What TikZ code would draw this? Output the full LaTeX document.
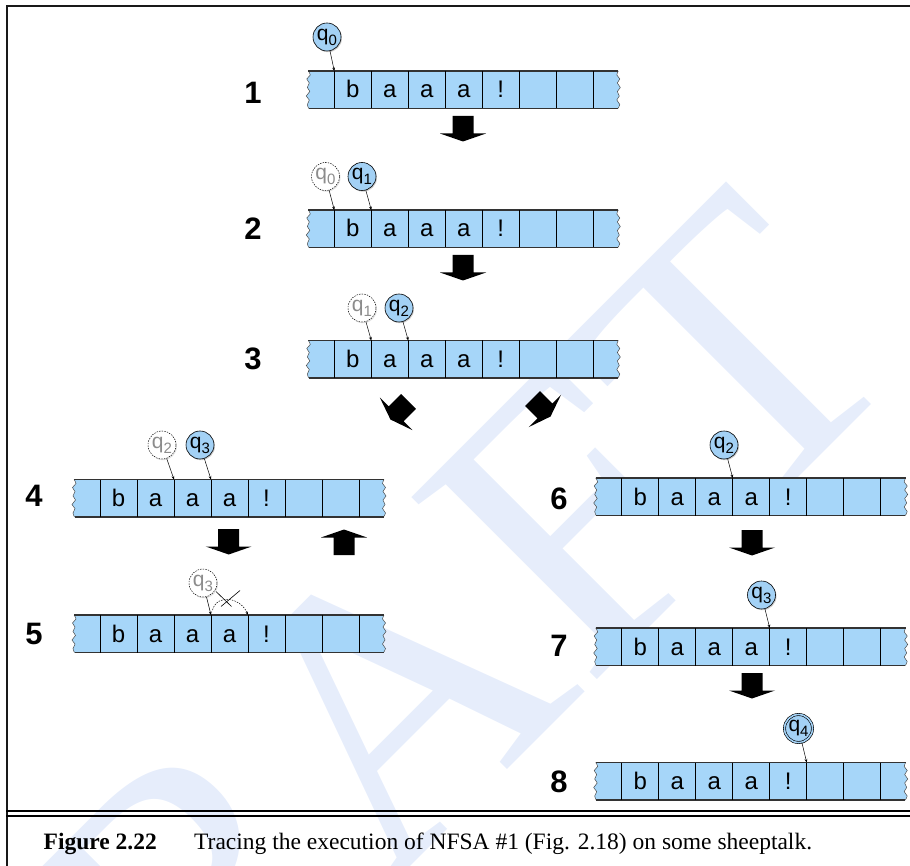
\documentclass[tikz,border=0pt]{standalone}
\usepackage{fontspec}
\setmainfont{Liberation Serif}
\setsansfont{Liberation Sans}
\usetikzlibrary{arrows.meta,shadows}
\definecolor{tapefill}{HTML}{A6D6F9}
\definecolor{statefill}{HTML}{A3D1F5}
\definecolor{wmark}{HTML}{E6EDFB}
\definecolor{ghost}{HTML}{8C8C8C}
\newcommand{\stq}[1]{q\raisebox{-5pt}{\fontsize{15}{15}\selectfont #1}}
\tikzset{
  tapeedge/.style={draw=black!80, line width=1.3pt},
  tapewave/.style={draw=black!70, line width=0.5pt},
  divider/.style={draw=black, line width=0.8pt},
  cellsym/.style={font=\sffamily\fontsize{24}{24}\selectfont, anchor=base, inner sep=0pt},
  statebase/.style={circle, minimum size=28pt, inner sep=0pt, font=\sffamily\fontsize{21}{21}\selectfont},
  live/.style={statebase, draw=black, line width=0.6pt, fill=statefill, drop shadow={shadow xshift=1pt, shadow yshift=-1.2pt, opacity=0.4}},
  ghoststate/.style={statebase, draw=black, line width=0.5pt, dash pattern=on 1.4pt off 1.2pt, fill=white, text=ghost, drop shadow={shadow xshift=1pt, shadow yshift=-1.2pt, opacity=0.25}},
  finalstate/.style={live, double=statefill, double distance=1.6pt},
  ptr/.style={-{Stealth[length=3.5pt,width=2.8pt]}, line width=0.5pt},
  steplabel/.style={font=\sffamily\bfseries\fontsize{31}{31}\selectfont, inner sep=0pt},
  wm/.style={rotate=45, inner sep=0pt, text=wmark, font=\rmfamily\fontsize{397}{397}\selectfont},
  frameline/.style={line width=2.2pt, draw=black!90},
  tape/.pic={
    \path[fill=tapefill] plot[smooth] coordinates {(-26,0) (-24,4) (-27.5,8) (-25,12) (-27,16.5) (-24.5,20.5) (-28,25) (-25,29) (-27,33.5) (-25.5,37.5)}
       -- plot[smooth] coordinates {(283.5,37.5) (285.5,33.5) (282.5,29) (285,25) (283,20.5) (286,16.5) (283,12) (285.5,8) (282.5,4) (284,0)} -- cycle;
    \draw[tapewave] plot[smooth] coordinates {(-26,0) (-24,4) (-27.5,8) (-25,12) (-27,16.5) (-24.5,20.5) (-28,25) (-25,29) (-27,33.5) (-25.5,37.5)};
    \draw[tapewave] plot[smooth] coordinates {(283.5,37.5) (285.5,33.5) (282.5,29) (285,25) (283,20.5) (286,16.5) (283,12) (285.5,8) (282.5,4) (284,0)};
    \draw[tapeedge] (-26,0) -- (284,0);
    \draw[tapeedge] (-25.5,37.5) -- (283.5,37.5);
    \foreach \i in {0,...,7} {\draw[divider] (\i*37,0) -- (\i*37,37.5); \coordinate (-d\i) at (\i*37,0);}
    \foreach \s [count=\k from 0] in {b,a,a,a,!} {\node[cellsym] (-s\k) at (\k*37+18.5,27) {\s};}
  },
  blockarrow/.pic={
    \fill[black] (-10.5,0) -- (10.5,0) -- (10.5,17.5) -- (23,17.5) -- (0,25.5) -- (-23,17.5) -- (-10.5,17.5) -- cycle;
  }
}
\begin{document}
\begin{tikzpicture}[x=1pt,y=-1pt]
\useasboundingbox (0,0) rectangle (910,866);
% watermark
\begin{scope}
  \clip (0,0) rectangle (910,866);
  \node[wm, anchor=base west] (wmft) at (587.4,689.2) {FT};
  \node[wm, anchor=base east] (wmdra) at (587.4,689.2) {DRA};
\end{scope}
% frame
\draw[frameline] (7.3,868) -- (7.3,5.7) -- (912,5.7);
\draw[line width=2pt] (6,810.7) -- (912,810.7);
\draw[line width=2pt] (6,815.7) -- (912,815.7);
% tapes
\pic (t1) at (334.3,71) {tape};
\pic (t2) at (334.3,210) {tape};
\pic (t3) at (334.3,340.5) {tape};
\pic (t4) at (100,479.5) {tape};
\pic (t5) at (100,615) {tape};
\pic (t6) at (621.7,478) {tape};
\pic (t7) at (621.7,628) {tape};
\pic (t8) at (621.7,762.5) {tape};
% step labels
\node[steplabel] (l1) at (253,93) {1};
\node[steplabel] (l2) at (253,229) {2};
\node[steplabel] (l3) at (253,359) {3};
\node[steplabel] (l4) at (34,496) {4};
\node[steplabel] (l5) at (34,634) {5};
\node[steplabel] (l6) at (559,499) {6};
\node[steplabel] (l7) at (559,646) {7};
\node[steplabel] (l8) at (559,782) {8};
% states
\node[live] (s1a) at (327,37) {\stq{0}};
\draw[ptr] (s1a) -- (t1-d0);
\node[ghoststate] (s2a) at (325.5,176.5) {\stq{0}};
\node[live] (s2b) at (362,176.5) {\stq{1}};
\draw[ptr] (s2a) -- (t2-d0);
\draw[ptr] (s2b) -- (t2-d1);
\node[ghoststate] (s3a) at (362,308) {\stq{1}};
\node[live] (s3b) at (399,308) {\stq{2}};
\draw[ptr] (s3a) -- (t3-d1);
\draw[ptr] (s3b) -- (t3-d2);
\node[ghoststate] (s4a) at (162,445) {\stq{2}};
\node[live] (s4b) at (200,445) {\stq{3}};
\draw[ptr] (s4a) -- (t4-d2);
\draw[ptr] (s4b) -- (t4-d3);
\node[ghoststate] (s5a) at (203,583) {\stq{3}};
\draw[ptr] (s5a) -- (t5-d3);
\coordinate (x5s) at (212.5,610);
\draw[ptr, dash pattern=on 1.5pt off 1.2pt] (x5s) .. controls +(5,-17) and +(-7,-17) .. (t5-d4);
\coordinate (x5a) at (216,591.5);
\coordinate (x5b) at (231.5,606.5);
\coordinate (x5c) at (221,606.5);
\coordinate (x5d) at (240,590.5);
\draw[line width=0.6pt] (x5a) -- (x5b);
\draw[line width=0.6pt] (x5c) -- (x5d);
\node[live] (s6a) at (724,445) {\stq{2}};
\draw[ptr] (s6a) -- (t6-d3);
\node[live] (s7a) at (761.5,595) {\stq{3}};
\draw[ptr] (s7a) -- (t7-d4);
\node[finalstate] (s8a) at (798.5,728.5) {\stq{4}};
\draw[ptr] (s8a) -- (t8-d5);
% block arrows
\pic at (463,116) {blockarrow};
\pic at (463,255) {blockarrow};
\pic[rotate=-45] at (408.5,401.5) {blockarrow};
\pic[rotate=45] at (532.5,398.5) {blockarrow};
\pic at (228.7,529) {blockarrow};
\pic[rotate=180] at (344,555) {blockarrow};
\pic at (752,530) {blockarrow};
\pic at (752,673) {blockarrow};
% caption
\node[anchor=base west, inner sep=0pt, font=\rmfamily\bfseries\fontsize{23.5}{28}\selectfont] (figno) at (43.5,849) {Figure 2.22};
\node[anchor=base west, inner sep=0pt, font=\rmfamily\fontsize{23.5}{28}\selectfont] (captext) at (194,849) {Tracing the execution of NFSA \#1 (Fig. 2.18) on some sheeptalk.};
\end{tikzpicture}
\end{document}
